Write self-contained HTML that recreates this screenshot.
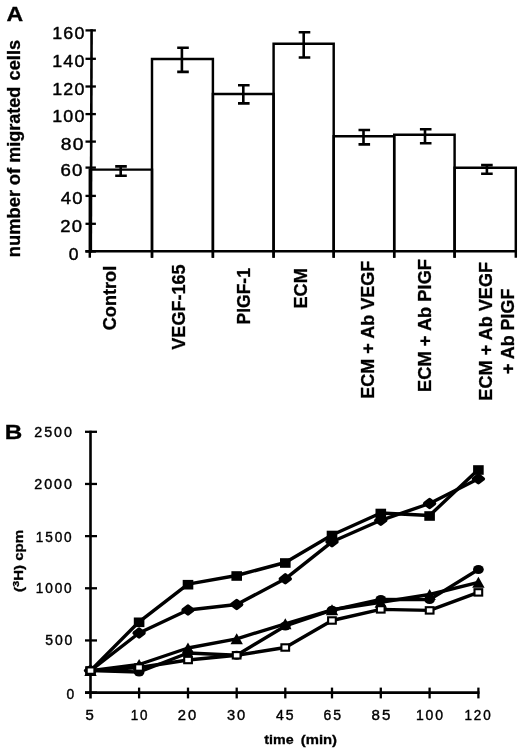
<!DOCTYPE html>
<html lang="en"><head><meta charset="utf-8"><title>Figure</title>
<style>html,body{margin:0;padding:0;background:#fff}body{width:520px;height:748px;overflow:hidden}svg{display:block}text{font-family:"Liberation Sans",Arial,Helvetica,sans-serif;fill:#000}.b{font-weight:bold;stroke:#000;stroke-width:.3px}.r{stroke:#000;stroke-width:.4px}</style></head><body>
<svg width="520" height="748" viewBox="0 0 520 748">
<rect width="520" height="748" fill="#fff"/>
<g id="panelA">
<text class="b" x="6.5" y="20.5" font-size="19.64" textLength="16.69" lengthAdjust="spacingAndGlyphs">A</text>
<g fill="none" stroke="#000" stroke-width="2.45" stroke-linejoin="miter">
<path d="M89.8 257.8V169.6H152.0V257.8"/>
<path d="M152.0 257.8V58.9H212.9V257.8"/>
<path d="M212.9 257.8V94.0H273.6V257.8"/>
<path d="M273.6 257.8V43.7H333.7V257.8"/>
<path d="M333.7 257.8V136.2H394.2V257.8"/>
<path d="M394.2 257.8V134.8H454.6V257.8"/>
<path d="M454.6 257.8V167.8H515.8V257.8"/>
</g>
<g stroke="#000" stroke-width="2.8" fill="none">
<path stroke-width="2.6" d="M91.6 29.3L90.8 252.5"/>
<path stroke-width="2.5" d="M85.3 251.25H516.9"/>
</g>
<g stroke="#000" stroke-width="2.3" fill="none">
<path d="M85.5 30.40H95.9"/>
<path d="M85.5 58.80H95.9"/>
<path d="M85.5 86.50H95.9"/>
<path d="M85.5 114.10H95.9"/>
<path d="M85.5 141.60H95.9"/>
<path d="M85.5 167.60H95.9"/>
<path d="M85.5 195.90H95.9"/>
<path d="M85.5 223.80H95.9"/>
<path d="M85.5 251.50H95.9"/>
</g>
<g stroke="#000" stroke-width="2.6" fill="none">
<path d="M120.7 166.4V175.8M115.2 166.4H126.8M115.2 175.8H126.8"/>
<path d="M181.9 47.7V71.9M177.2 47.7H188.8M177.2 71.9H188.8"/>
<path d="M243.3 85.3V103.4M238.0 85.3H249.6M238.0 103.4H249.6"/>
<path d="M303.7 32.3V57.5M298.7 32.3H310.3M298.7 57.5H310.3"/>
<path d="M363.5 130.0V144.4M358.5 130.0H370.1M358.5 144.4H370.1"/>
<path d="M425.0 129.2V143.3M419.9 129.2H431.5M419.9 143.3H431.5"/>
<path d="M486.9 165.1V173.8M481.1 165.1H492.7M481.1 173.8H492.7"/>
</g>
<text class="r" x="52.15" y="38.67" font-size="15.6" textLength="33.53" lengthAdjust="spacingAndGlyphs" letter-spacing="1.1">160</text>
<text class="r" x="52.15" y="66.68" font-size="15.6" textLength="33.53" lengthAdjust="spacingAndGlyphs" letter-spacing="1.1">140</text>
<text class="r" x="52.15" y="94.88" font-size="15.6" textLength="33.53" lengthAdjust="spacingAndGlyphs" letter-spacing="1.1">120</text>
<text class="r" x="52.15" y="122.48" font-size="15.6" textLength="33.53" lengthAdjust="spacingAndGlyphs" letter-spacing="1.1">100</text>
<text class="r" x="60.65" y="150.02" font-size="15.6" textLength="24.1" lengthAdjust="spacingAndGlyphs" letter-spacing="1.1">80</text>
<text class="r" x="60.4" y="175.98" font-size="15.6" textLength="23.4" lengthAdjust="spacingAndGlyphs" letter-spacing="1.1">60</text>
<text class="r" x="60.7" y="203.92" font-size="15.6" textLength="23.2" lengthAdjust="spacingAndGlyphs" letter-spacing="1.1">40</text>
<text class="r" x="60.2" y="231.88" font-size="15.6" textLength="23.1" lengthAdjust="spacingAndGlyphs" letter-spacing="1.1">20</text>
<text class="r" x="68.65" y="259.73" font-size="15.6" textLength="10.98" lengthAdjust="spacingAndGlyphs" letter-spacing="1.1">0</text>
<text class="b" transform="translate(20.25 257.15) rotate(-90)" font-size="17.5" textLength="67.24" lengthAdjust="spacingAndGlyphs">number</text>
<text class="b" transform="translate(20.25 185.25) rotate(-90)" font-size="17.5" textLength="17.48" lengthAdjust="spacingAndGlyphs">of</text>
<text class="b" transform="translate(20.35 162.75) rotate(-90)" font-size="17.5" textLength="75.91" lengthAdjust="spacingAndGlyphs">migrated</text>
<text class="b" transform="translate(20.3 80.45) rotate(-90)" font-size="17.5" textLength="40.54" lengthAdjust="spacingAndGlyphs">cells</text>
<text class="b" transform="translate(115.62 330.25) rotate(-90)" font-size="18.0" textLength="64.48" lengthAdjust="spacingAndGlyphs">Control</text>
<text class="b" transform="translate(185.27 349.65) rotate(-90)" font-size="18.0" textLength="85.15" lengthAdjust="spacingAndGlyphs">VEGF-165</text>
<text class="b" transform="translate(250.42 324.55) rotate(-90)" font-size="18.0" textLength="56.47" lengthAdjust="spacingAndGlyphs">PlGF-1</text>
<text class="b" transform="translate(307.42 308.55) rotate(-90)" font-size="18.0" textLength="40.35" lengthAdjust="spacingAndGlyphs">ECM</text>
<text class="b" transform="translate(373.88 398.85) rotate(-90)" font-size="18.0" textLength="138.21" lengthAdjust="spacingAndGlyphs">ECM + Ab VEGF</text>
<text class="b" transform="translate(430.62 391.95) rotate(-90)" font-size="18.0" textLength="132.99" lengthAdjust="spacingAndGlyphs">ECM + Ab PlGF</text>
<text class="b" transform="translate(491.62 400.65) rotate(-90)" font-size="18.0" textLength="138.71" lengthAdjust="spacingAndGlyphs">ECM + Ab VEGF</text>
<text class="b" transform="translate(514.08 374.05) rotate(-90)" font-size="18.0" textLength="85.49" lengthAdjust="spacingAndGlyphs">+ Ab PlGF</text>
</g>
<g id="panelB">
<text class="b" x="4.75" y="439.28" font-size="20.66" textLength="17.53" lengthAdjust="spacingAndGlyphs">B</text>
<g stroke="#000" stroke-width="2.6" fill="none">
<path d="M90.5 430.8V698.4"/>
<path d="M85 692.6H479.5"/>
</g>
<g stroke="#000" stroke-width="2.3" fill="none">
<path d="M85 431.80H97"/>
<path d="M85 483.96H97"/>
<path d="M85 536.12H97"/>
<path d="M85 588.28H97"/>
<path d="M85 640.44H97"/>
<path d="M85 692.60H97"/>
<path d="M139.10 687.6V698.4"/>
<path d="M188.00 687.6V698.4"/>
<path d="M236.70 687.6V698.4"/>
<path d="M285.30 687.6V698.4"/>
<path d="M332.00 687.6V698.4"/>
<path d="M380.80 687.6V698.4"/>
<path d="M429.60 687.6V698.4"/>
<path d="M478.40 687.6V698.4"/>
</g>
<text class="r" x="34.25" y="436.75" font-size="13.8" textLength="39.55" lengthAdjust="spacingAndGlyphs" letter-spacing="1.9">2500</text>
<text class="r" x="34.25" y="489.25" font-size="13.8" textLength="39.55" lengthAdjust="spacingAndGlyphs" letter-spacing="1.9">2000</text>
<text class="r" x="35.75" y="542.25" font-size="13.8" textLength="37.8" lengthAdjust="spacingAndGlyphs" letter-spacing="1.9">1500</text>
<text class="r" x="35.75" y="592.75" font-size="13.8" textLength="37.8" lengthAdjust="spacingAndGlyphs" letter-spacing="1.9">1000</text>
<text class="r" x="45.25" y="645.4" font-size="13.8" textLength="29.03" lengthAdjust="spacingAndGlyphs" letter-spacing="1.9">500</text>
<text class="r" x="66.5" y="698.75" font-size="13.8" textLength="9.58" lengthAdjust="spacingAndGlyphs" letter-spacing="1.9">0</text>
<text class="r" x="85.5" y="719.52" font-size="13.8" textLength="10.33" lengthAdjust="spacingAndGlyphs" letter-spacing="1.9">5</text>
<text class="r" x="130.75" y="719.65" font-size="13.8" textLength="18.66" lengthAdjust="spacingAndGlyphs" letter-spacing="1.9">10</text>
<text class="r" x="177.75" y="719.65" font-size="13.8" textLength="20.46" lengthAdjust="spacingAndGlyphs" letter-spacing="1.9">20</text>
<text class="r" x="226.9" y="719.65" font-size="13.8" textLength="20.36" lengthAdjust="spacingAndGlyphs" letter-spacing="1.9">30</text>
<text class="r" x="276.0" y="719.52" font-size="13.8" textLength="19.41" lengthAdjust="spacingAndGlyphs" letter-spacing="1.9">45</text>
<text class="r" x="323.5" y="719.65" font-size="13.8" textLength="19.41" lengthAdjust="spacingAndGlyphs" letter-spacing="1.9">65</text>
<text class="r" x="371.55" y="719.65" font-size="13.8" textLength="20.91" lengthAdjust="spacingAndGlyphs" letter-spacing="1.9">85</text>
<text class="r" x="415.9" y="719.65" font-size="13.8" textLength="29.13" lengthAdjust="spacingAndGlyphs" letter-spacing="1.9">100</text>
<text class="r" x="464.5" y="719.65" font-size="13.8" textLength="28.03" lengthAdjust="spacingAndGlyphs" letter-spacing="1.9">120</text>
<text class="b" x="264.25" y="743.62" font-size="12.8" textLength="29.31" lengthAdjust="spacingAndGlyphs">time</text>
<text class="b" x="300.75" y="743.52" font-size="12.8" textLength="36.28" lengthAdjust="spacingAndGlyphs">(min)</text>
<text class="b" transform="translate(23.3 592.0) rotate(-90)" font-size="13" textLength="62.2" lengthAdjust="spacingAndGlyphs">(<tspan font-size="9.6" dy="-4.3">3</tspan><tspan dy="4.3">H) cpm</tspan></text>
<g stroke="#000" stroke-width="3.4" fill="none" stroke-linejoin="round">
<polyline points="90.5,670.6 139.1,672.0 188.0,653.0 236.7,655.2 285.3,626.0 332.0,610.2 380.8,599.5 429.6,599.6 478.4,569.5"/>
<polyline points="90.5,670.6 139.1,664.5 188.0,648.0 236.7,638.8 285.3,623.8 332.0,609.8 380.8,602.3 429.6,594.5 478.4,582.3"/>
<polyline points="90.5,670.6 139.1,633.0 188.0,610.0 236.7,604.5 285.3,578.8 332.0,541.8 380.8,520.3 429.6,503.5 478.4,478.8"/>
<polyline points="90.5,670.6 139.1,621.8 188.0,584.2 236.7,575.5 285.3,562.5 332.0,535.0 380.8,513.0 429.6,515.5 478.4,469.5"/>
<polyline points="90.5,670.6 139.1,667.5 188.0,660.0 236.7,655.3 285.3,647.5 332.0,620.5 380.8,609.4 429.6,610.4 478.4,592.4"/>
</g>
<g fill="#000" stroke="none">
<ellipse cx="90.5" cy="670.6" rx="5.4" ry="4.5"/>
<ellipse cx="139.1" cy="672.0" rx="5.4" ry="4.5"/>
<ellipse cx="188.0" cy="653.0" rx="5.4" ry="4.5"/>
<ellipse cx="236.7" cy="655.2" rx="5.4" ry="4.5"/>
<ellipse cx="285.3" cy="626.0" rx="5.4" ry="4.5"/>
<ellipse cx="332.0" cy="610.2" rx="5.4" ry="4.5"/>
<ellipse cx="380.8" cy="599.5" rx="5.4" ry="4.5"/>
<ellipse cx="429.6" cy="599.6" rx="5.4" ry="4.5"/>
<ellipse cx="478.4" cy="569.5" rx="5.4" ry="4.5"/>
<path d="M90.5 665.0L96.7 676.0H84.3Z"/>
<path d="M139.1 658.9L145.3 669.9H132.9Z"/>
<path d="M188.0 642.4L194.2 653.4H181.8Z"/>
<path d="M236.7 633.2L242.9 644.2H230.5Z"/>
<path d="M285.3 618.2L291.5 629.2H279.1Z"/>
<path d="M332.0 604.2L338.2 615.2H325.8Z"/>
<path d="M380.8 596.7L387.0 607.7H374.6Z"/>
<path d="M429.6 588.9L435.8 599.9H423.4Z"/>
<path d="M478.4 576.7L484.6 587.7H472.2Z"/>
<path stroke="#000" stroke-width="3.6" stroke-linejoin="round" d="M90.5 666.7L95.4 670.6L90.5 674.5L85.6 670.6Z"/>
<path stroke="#000" stroke-width="3.6" stroke-linejoin="round" d="M139.1 629.1L144.0 633.0L139.1 636.9L134.2 633.0Z"/>
<path stroke="#000" stroke-width="3.6" stroke-linejoin="round" d="M188.0 606.1L192.9 610.0L188.0 613.9L183.1 610.0Z"/>
<path stroke="#000" stroke-width="3.6" stroke-linejoin="round" d="M236.7 600.6L241.6 604.5L236.7 608.4L231.8 604.5Z"/>
<path stroke="#000" stroke-width="3.6" stroke-linejoin="round" d="M285.3 574.9L290.2 578.8L285.3 582.7L280.4 578.8Z"/>
<path stroke="#000" stroke-width="3.6" stroke-linejoin="round" d="M332.0 537.9L336.9 541.8L332.0 545.7L327.1 541.8Z"/>
<path stroke="#000" stroke-width="3.6" stroke-linejoin="round" d="M380.8 516.4L385.7 520.3L380.8 524.2L375.9 520.3Z"/>
<path stroke="#000" stroke-width="3.6" stroke-linejoin="round" d="M429.6 499.6L434.5 503.5L429.6 507.4L424.7 503.5Z"/>
<path stroke="#000" stroke-width="3.6" stroke-linejoin="round" d="M478.4 474.9L483.3 478.8L478.4 482.7L473.5 478.8Z"/>
<rect x="85.2" y="666.3" width="10.6" height="9.6"/>
<rect x="133.8" y="617.5" width="10.6" height="9.6"/>
<rect x="182.7" y="579.9" width="10.6" height="9.6"/>
<rect x="231.4" y="571.2" width="10.6" height="9.6"/>
<rect x="280.0" y="558.2" width="10.6" height="9.6"/>
<rect x="326.7" y="530.7" width="10.6" height="9.6"/>
<rect x="375.5" y="508.7" width="10.6" height="9.6"/>
<rect x="424.3" y="511.2" width="10.6" height="9.6"/>
<rect x="473.1" y="465.2" width="10.6" height="9.6"/>
</g>
<g fill="#fff" stroke="#000" stroke-width="2.1">
<rect x="86.7" y="667.4" width="7.7" height="6.4"/>
<rect x="135.2" y="664.3" width="7.7" height="6.4"/>
<rect x="184.2" y="656.8" width="7.7" height="6.4"/>
<rect x="232.8" y="652.1" width="7.7" height="6.4"/>
<rect x="281.4" y="644.3" width="7.7" height="6.4"/>
<rect x="328.1" y="617.3" width="7.7" height="6.4"/>
<rect x="376.9" y="606.2" width="7.7" height="6.4"/>
<rect x="425.8" y="607.2" width="7.7" height="6.4"/>
<rect x="474.5" y="589.2" width="7.7" height="6.4"/>
</g>
</g>
</svg></body></html>
